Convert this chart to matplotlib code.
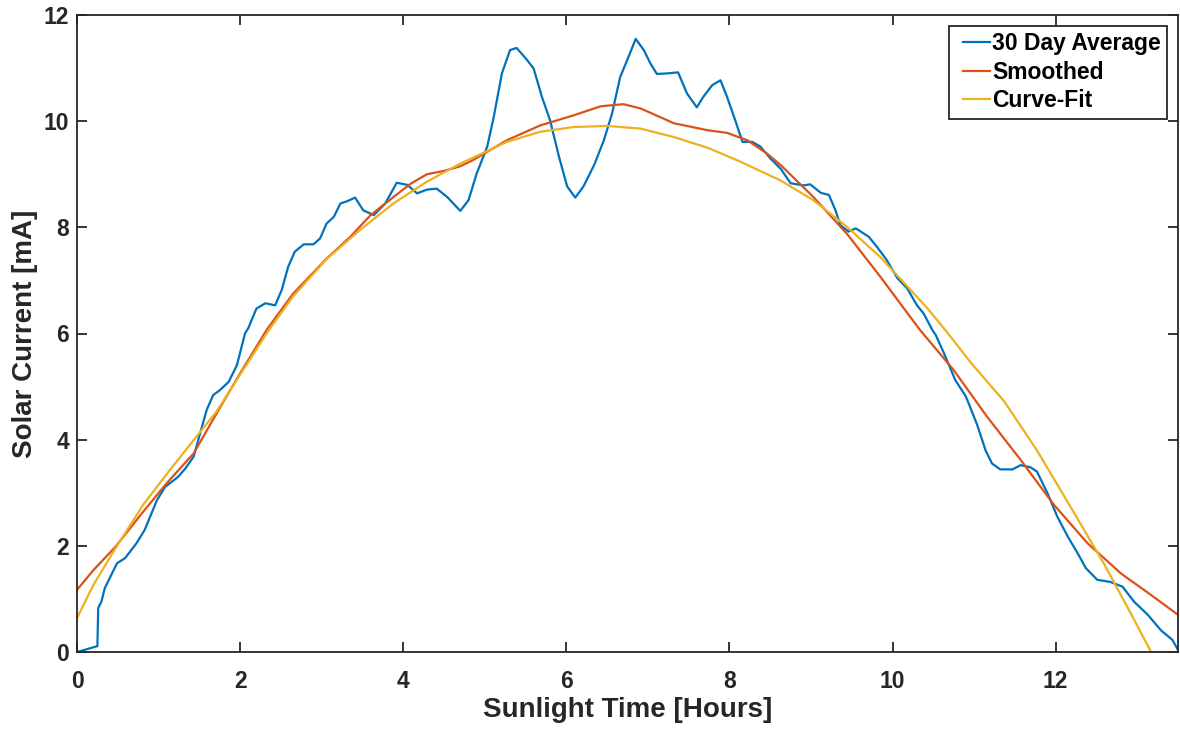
import matplotlib
matplotlib.use('Agg')
import matplotlib.pyplot as plt
from matplotlib.legend_handler import HandlerLine2D
import numpy as np

# Daten
avg_x = [0.00, 0.25, 0.26, 0.30, 0.34, 0.49, 0.59, 0.73, 0.83, 0.98, 1.08, 1.24, 1.33, 1.43,
         1.51, 1.59, 1.67, 1.75, 1.86, 1.96, 2.06, 2.10, 2.20, 2.31, 2.43, 2.51, 2.59, 2.67,
         2.78, 2.90, 2.98, 3.06, 3.15, 3.23, 3.31, 3.41, 3.51, 3.64, 3.78, 3.92, 4.05, 4.17,
         4.29, 4.41, 4.54, 4.70, 4.80, 4.90, 5.03, 5.11, 5.21, 5.31, 5.39, 5.52, 5.60, 5.70,
         5.80, 5.91, 6.01, 6.11, 6.21, 6.34, 6.46, 6.56, 6.66, 6.77, 6.85, 6.95, 7.03, 7.11,
         7.24, 7.37, 7.48, 7.60, 7.68, 7.79, 7.89, 7.97, 8.07, 8.16, 8.28, 8.38, 8.50, 8.63,
         8.75, 8.91, 8.99, 9.12, 9.22, 9.30, 9.36, 9.46, 9.55, 9.71, 9.81, 9.93, 10.06, 10.18,
         10.30, 10.38, 10.49, 10.53, 10.63, 10.77, 10.90, 11.04, 11.14, 11.22, 11.32, 11.47,
         11.57, 11.69, 11.77, 11.90, 12.02, 12.15, 12.27, 12.37, 12.51, 12.67, 12.82, 12.96,
         13.13, 13.29, 13.43, 13.50]
avg_y = [0.00, 0.11, 0.83, 0.95, 1.20, 1.67, 1.77, 2.05, 2.30, 2.86, 3.11, 3.30, 3.46, 3.68,
         4.12, 4.56, 4.84, 4.93, 5.09, 5.40, 6.00, 6.10, 6.47, 6.57, 6.53, 6.82, 7.26, 7.54,
         7.68, 7.68, 7.79, 8.07, 8.20, 8.45, 8.49, 8.56, 8.32, 8.23, 8.45, 8.84, 8.80, 8.64,
         8.71, 8.73, 8.57, 8.31, 8.51, 9.01, 9.52, 10.08, 10.90, 11.34, 11.38, 11.15, 10.99, 10.46,
         10.02, 9.33, 8.77, 8.56, 8.77, 9.17, 9.64, 10.14, 10.83, 11.24, 11.55, 11.34, 11.09, 10.89,
         10.90, 10.92, 10.52, 10.26, 10.46, 10.68, 10.77, 10.46, 10.02, 9.61, 9.61, 9.52, 9.30, 9.10,
         8.83, 8.79, 8.81, 8.65, 8.61, 8.32, 8.04, 7.92, 7.98, 7.82, 7.63, 7.38, 7.04, 6.85,
         6.53, 6.38, 6.06, 5.97, 5.63, 5.12, 4.81, 4.27, 3.80, 3.55, 3.44, 3.44,
         3.52, 3.48, 3.40, 2.99, 2.55, 2.17, 1.86, 1.58, 1.36, 1.32, 1.23, 0.95,
         0.70, 0.41, 0.23, 0.04]

smooth_x = [0.00, 0.20, 0.47, 0.81, 1.10, 1.43, 1.71, 2.00, 2.33, 2.65, 3.06, 3.35, 3.60, 3.88,
            4.09, 4.29, 4.49, 4.70, 4.86, 5.27, 5.68, 6.09, 6.42, 6.70, 6.91, 7.32, 7.73, 7.97,
            8.22, 8.46, 8.63, 9.03, 9.44, 9.85, 10.14, 10.34, 10.75, 11.16, 11.57, 11.98, 12.39,
            12.80, 13.20, 13.50]
smooth_y = [1.17, 1.54, 1.98, 2.64, 3.18, 3.74, 4.49, 5.25, 6.08, 6.75, 7.41, 7.82, 8.23, 8.57,
            8.82, 9.00, 9.06, 9.15, 9.27, 9.64, 9.92, 10.11, 10.28, 10.32, 10.24, 9.96, 9.83, 9.78,
            9.64, 9.39, 9.17, 8.57, 7.88, 7.07, 6.47, 6.06, 5.31, 4.43, 3.62, 2.77, 2.05,
            1.48, 1.04, 0.70]

fit_x = [0.00, 0.20, 0.47, 0.81, 1.14, 1.43, 1.71, 2.35, 2.65, 3.06, 3.47, 3.88, 4.29, 4.70,
         5.27, 5.68, 6.09, 6.50, 6.91, 7.32, 7.73, 8.13, 8.63, 9.03, 9.44, 9.85, 10.43, 10.65,
         10.96, 11.37, 11.77, 12.18, 12.59, 12.92, 13.17, 13.50]
fit_y = [0.64, 1.26, 1.95, 2.77, 3.43, 3.99, 4.53, 6.06, 6.70, 7.40, 7.95, 8.45, 8.86, 9.20,
         9.61, 9.80, 9.89, 9.91, 9.86, 9.70, 9.50, 9.24, 8.88, 8.51, 8.01, 7.44, 6.47, 6.06,
         5.45, 4.72, 3.80, 2.74, 1.67, 0.73, 0.00, 0.00]

xticks = [0, 2, 4, 6, 8, 10, 12]
yticks = [0, 2, 4, 6, 8, 10, 12]

plt.rcParams['font.family'] = ['Liberation Sans', 'DejaVu Sans']
plt.rcParams['font.weight'] = 'bold'

fig = plt.figure(figsize=(11.8, 7.3), dpi=100)
ax = fig.add_axes([77/1180, 78/730, 1101/1180, 637/730])

lw = 1.6
ax.plot(avg_x, avg_y, color='#0072BD', lw=lw, label='30 Day Average')
ax.plot(smooth_x, smooth_y, color='#D95319', lw=lw, label='Smoothed')
ax.plot(fit_x, fit_y, color='#EDB120', lw=lw, label='Curve-Fit')

ax.set_xlim(0, 13.5)
ax.set_ylim(0, 12)
ax.set_xticks(xticks)
ax.set_yticks(yticks)

dark = '#262626'
for s in ax.spines.values():
    s.set_color(dark)
    s.set_linewidth(1.3)
ax.tick_params(direction='in', length=7, width=1.3, colors=dark, labelsize=16.5,
               top=True, right=True)
ax.tick_params(axis='x', pad=13)
ax.tick_params(axis='y', pad=5.5)
for lab in ax.get_xticklabels() + ax.get_yticklabels():
    lab.set_fontweight('bold')

ax.set_xlabel('Sunlight Time [Hours]', fontsize=20, fontweight='bold', color=dark, labelpad=3)
ax.set_ylabel('Solar Current [mA]', fontsize=20, fontweight='bold', color=dark, labelpad=4)

# Legende mit Abstand links vom Linien-Symbol (wie in MATLAB)
leg = ax.legend(loc='upper right', fontsize=16.5, frameon=True, fancybox=False,
                framealpha=1, edgecolor=dark, handlelength=1.53, handletextpad=0.09,
                labelspacing=0.25, borderpad=0.28, borderaxespad=0.46,
                handler_map={plt.Line2D: HandlerLine2D(xpad=0.35)})
leg.get_frame().set_linewidth(1.3)
for t in leg.get_texts():
    t.set_fontweight('bold')

fig.savefig('out.png', dpi=100)
